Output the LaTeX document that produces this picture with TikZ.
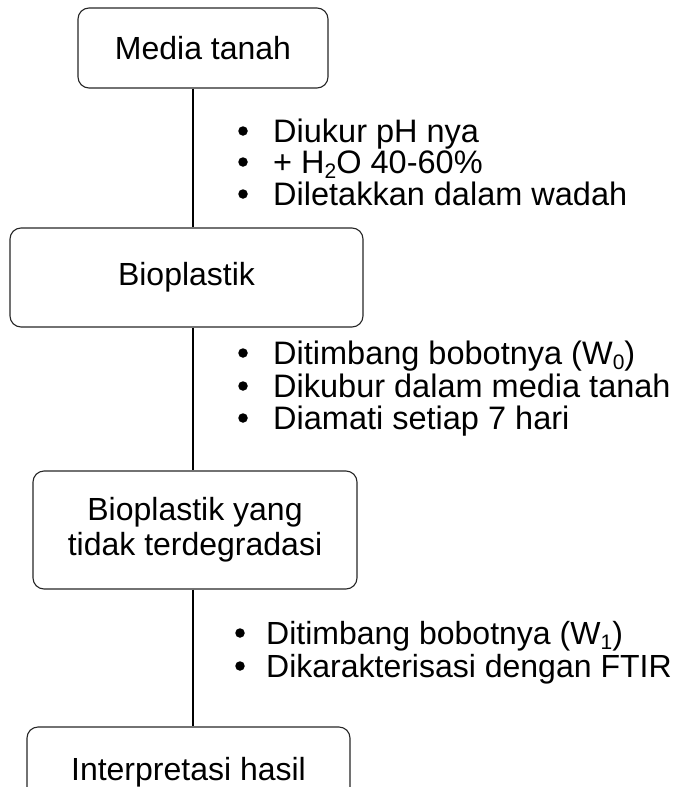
\documentclass[tikz,border=0pt]{standalone}
\usepackage{fontspec}
\setmainfont{Liberation Sans}
\newcommand\lowsub[1]{\smash{\raisebox{-0.18em}{\fontsize{21}{21}\selectfont #1}}}
\begin{document}
\begin{tikzpicture}[x=1pt,y=-1pt,
  box/.style={draw=black!85, rounded corners=11pt, line width=1.1pt, align=center, inner sep=0pt, font=\fontsize{32}{35}\selectfont},
  conn/.style={line width=1.8pt},
  item/.style={anchor=base west, inner sep=0pt, font=\fontsize{32.5}{36}\selectfont},
  itemc/.style={anchor=base west, inner sep=0pt, font=\fontsize{32}{36}\selectfont},
  dot/.style={circle, fill=black, inner sep=0pt, minimum size=9.5pt}]
\useasboundingbox (0,0) rectangle (672,787);
\clip (0,0) rectangle (672,787);
\coordinate (L) at (193,0);
% boxes
\node[box, minimum width=250pt, minimum height=80pt] (b1) at (203,48) {Media tanah};
\node[box, minimum width=353pt, minimum height=99pt] (b2) at (186.5,277.5) {Bioplastik};
\node[box, minimum width=324pt, minimum height=118pt] (b3) at (195,530) {Bioplastik yang\\tidak terdegradasi};
\node[box, minimum width=323pt, minimum height=90pt] (b4) at (188.5,772) {Interpretasi hasil};
% connectors
\draw[conn] (b1.south -| L) -- (b2.north -| L);
\draw[conn] (b2.south -| L) -- (b3.north -| L);
\draw[conn] (b3.south -| L) -- (b4.north -| L);
% group 1
\node[dot] (d11) at (243,131) {};
\node[item] (t11) at (273,142) {Diukur pH nya};
\node[dot] (d12) at (243,162) {};
\node[item] (t12) at (273,173) {+ H\lowsub{2}O 40-60\%};
\node[dot] (d13) at (243,194) {};
\node[item] (t13) at (273,205) {Diletakkan dalam wadah};
% group 2
\node[dot] (d21) at (243,353) {};
\node[item] (t21) at (273,364) {Ditimbang bobotnya (W\lowsub{0})};
\node[dot] (d22) at (243,386) {};
\node[item] (t22) at (273,397) {Dikubur dalam media tanah};
\node[dot] (d23) at (243,418) {};
\node[item] (t23) at (273,429) {Diamati setiap 7 hari};
% group 3
\node[dot] (d31) at (240,633) {};
\node[itemc] (t31) at (266,644) {Ditimbang bobotnya (W\lowsub{1})};
\node[dot] (d32) at (240,666) {};
\node[itemc] (t32) at (266,677) {Dikarakterisasi dengan FTIR};
\end{tikzpicture}
\end{document}
